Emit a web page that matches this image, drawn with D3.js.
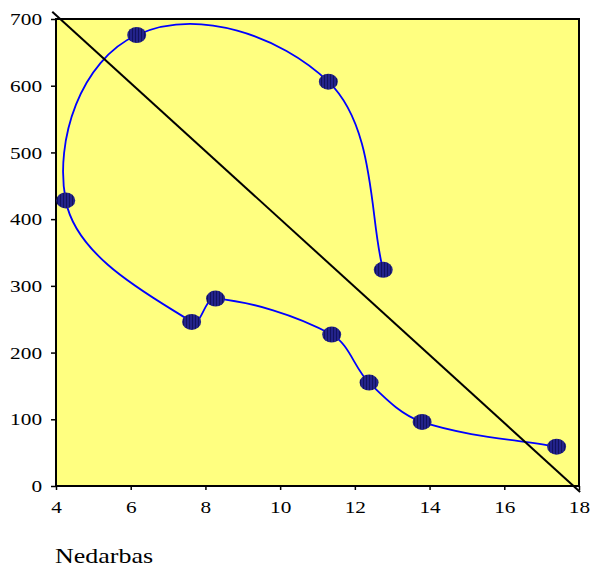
<!DOCTYPE html>
<html>
<head>
<meta charset="utf-8">
<script src="https://cdn.jsdelivr.net/npm/d3@7"></script>
<style>
  html, body { margin: 0; padding: 0; background: #fff; }
  svg { display: block; }
  text { font-family: "Liberation Serif", "Times New Roman", serif; fill: #000; }
</style>
</head>
<body>
<svg id="chart" width="590" height="567"></svg>
<script>
// ---- data ----
const unemployment = [12.76, 11.29, 6.16, 4.26, 7.63, 8.27, 11.38, 12.38, 13.8, 17.4];
const values       = [324, 606, 676, 428, 246, 281, 227, 155, 96, 59];
const trendX = [3.9, 18.03];
const trendY = [711, -9];
const xTicks = [4, 6, 8, 10, 12, 14, 16, 18];
const yTicks = [0, 100, 200, 300, 400, 500, 600, 700];
const xTitle = "Nedarbas";

(function () {
// ---- layout ----
const svg = d3.select("#chart");
const pLeft = 56, pRight = 579, pTop = 19, pBottom = 486;
const x = d3.scaleLinear().domain([4, 18]).range([pLeft, pRight]);
const y = d3.scaleLinear().domain([0, 700]).range([pBottom, pTop]);
const SX = 1.33; // horizontal text stretch seen in the reference

// pattern for hatched markers
const defs = svg.append("defs");
const pat = defs.append("pattern").attr("id", "hatch")
  .attr("patternUnits", "userSpaceOnUse").attr("width", 3).attr("height", 5);
pat.append("rect").attr("width", 3).attr("height", 5).attr("fill", "#23238a");
pat.append("rect").attr("x", 0).attr("width", 1).attr("height", 5).attr("fill", "#12125e");

// plot area
svg.append("rect")
  .attr("x", pLeft).attr("y", pTop)
  .attr("width", pRight - pLeft).attr("height", pBottom - pTop)
  .attr("fill", "#FFFF80").attr("stroke", "#000").attr("stroke-width", 2);

// axes
const yAxis = svg.append("g").attr("transform", `translate(${pLeft},0)`)
  .call(d3.axisLeft(y).tickValues(yTicks).tickSize(5).tickFormat(d3.format("d")));
yAxis.select(".domain").remove();
yAxis.selectAll(".tick line").attr("stroke", "#000").attr("stroke-width", 1.5);
yAxis.selectAll(".tick text")
  .attr("x", -14 / SX).attr("dy", "0.35em")
  .attr("transform", `scale(${SX},1)`)
  .style("font-size", "16px").style("font-family", "'Liberation Serif', serif");

const xAxis = svg.append("g").attr("transform", `translate(0,${pBottom})`)
  .call(d3.axisBottom(x).tickValues(xTicks).tickSize(4).tickFormat(d3.format("d")));
xAxis.select(".domain").remove();
xAxis.selectAll(".tick line").attr("stroke", "#000").attr("stroke-width", 1.5);
xAxis.selectAll(".tick text")
  .attr("y", 27).attr("dy", null)
  .attr("transform", `scale(${SX},1)`)
  .attr("x", 0)
  .style("font-size", "16px").style("font-family", "'Liberation Serif', serif");

// Excel-like smoothed curve
const K = 0.25, CLAMP = 0.34;
function ctrl(t, L) {
  let dx = t[0] * K, dy = t[1] * K;
  const d = Math.hypot(dx, dy), m = L * CLAMP;
  if (d > m && d > 0) { dx *= m / d; dy *= m / d; }
  return [dx, dy];
}
function ExcelSmooth(context) { this._context = context; }
ExcelSmooth.prototype = {
  areaStart() {}, areaEnd() {},
  lineStart() { this._pts = []; },
  point(px, py) { this._pts.push([+px, +py]); },
  lineEnd() {
    const p = this._pts, n = p.length, c = this._context;
    if (!n) return;
    c.moveTo(p[0][0], p[0][1]);
    const tan = i => {
      const a = p[Math.max(0, i - 1)], b = p[Math.min(n - 1, i + 1)];
      return [b[0] - a[0], b[1] - a[1]];
    };
    for (let i = 0; i < n - 1; i++) {
      const a = p[i], b = p[i + 1];
      const L = Math.hypot(b[0] - a[0], b[1] - a[1]);
      const ta = ctrl(tan(i), L), tb = ctrl(tan(i + 1), L);
      c.bezierCurveTo(a[0] + ta[0], a[1] + ta[1], b[0] - tb[0], b[1] - tb[1], b[0], b[1]);
    }
  }
};
const excelCurve = ctx => new ExcelSmooth(ctx);

const pts = unemployment.map((u, i) => ({ u, v: values[i] }));

svg.append("path")
  .datum(pts)
  .attr("fill", "none").attr("stroke", "#0000FF").attr("stroke-width", 1.8)
  .attr("stroke-linejoin", "round")
  .attr("d", d3.line().x(d => x(d.u)).y(d => y(d.v)).curve(excelCurve));

// straight trend line
svg.append("path")
  .datum(trendX.map((t, i) => ({ u: t, v: trendY[i] })))
  .attr("fill", "none").attr("stroke", "#000").attr("stroke-width", 2)
  .attr("d", d3.line().x(d => x(d.u)).y(d => y(d.v)));

// markers
svg.append("g").selectAll("ellipse").data(pts).join("ellipse")
  .attr("cx", d => x(d.u)).attr("cy", d => y(d.v))
  .attr("rx", 9.5).attr("ry", 8)
  .attr("fill", "url(#hatch)");

// axis title
svg.append("text")
  .attr("transform", `translate(55,563) scale(1.3,1)`)
  .style("font-size", "20px").style("font-family", "'Liberation Serif', serif")
  .text(xTitle);
})();
</script>
</body>
</html>
